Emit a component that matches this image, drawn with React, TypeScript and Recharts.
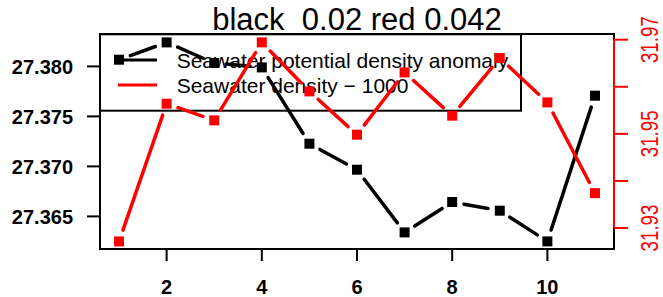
import React from 'react';
import { ComposedChart, Line, XAxis, YAxis, ReferenceArea, ReferenceLine } from 'recharts';

const xValues = [1, 2, 3, 4, 5, 6, 7, 8, 9, 10, 11];
const potentialDensityAnomaly = [27.38067, 27.3824, 27.38034, 27.3799, 27.37227, 27.36967, 27.3634, 27.36644, 27.36557, 27.3625, 27.37707];
const densityMinus1000 = [31.92715, 31.9564, 31.95286, 31.96943, 31.95902, 31.94982, 31.96305, 31.95386, 31.96611, 31.95668, 31.93741];
const xTicks = [2, 4, 6, 8, 10];
const leftTicks = [27.365, 27.37, 27.375, 27.38];
const rightTicks = [31.93, 31.94, 31.95, 31.96, 31.97];
const rightLabeledTicks = [31.93, 31.95, 31.97];
const titleText = 'black  0.02 red 0.042';
const legendLabels = ['Seawater potential density anomaly', 'Seawater density \u2212 1000'];
const xDomain = [0.6, 11.4];
const leftDomain = [27.36174, 27.38324];
const rightDomain = [31.92554, 31.97121];

const data = xValues.map((x, i) => ({ x, black: potentialDensityAnomaly[i], red: densityMinus1000[i] }));

const FONT = '"Liberation Sans", Arial, Helvetica, sans-serif';
const GAP = 12;

function makeDot(color: string) {
  const store: Record<number, { x: number; y: number }> = {};
  return (props: any) => {
    const { cx, cy, index, points } = props;
    store[index] = { x: cx, y: cy };
    const prev = index > 0 ? ((points && points[index - 1]) || store[index - 1]) : null;
    let seg = null;
    if (prev && prev.x != null && prev.y != null) {
      const dx = cx - prev.x;
      const dy = cy - prev.y;
      const len = Math.hypot(dx, dy);
      if (len > 2 * GAP) {
        const ux = dx / len;
        const uy = dy / len;
        seg = (
          <line
            x1={prev.x + ux * GAP}
            y1={prev.y + uy * GAP}
            x2={cx - ux * GAP}
            y2={cy - uy * GAP}
            stroke={color}
            strokeWidth={3.5}
            strokeLinecap="round"
          />
        );
      }
    }
    return (
      <g key={`dot-${color}-${index}`}>
        {seg}
        <rect x={cx - 5} y={cy - 5} width={10} height={10} fill={color} />
      </g>
    );
  };
}

const blackDot = makeDot('#000000');
const redDot = makeDot('#FF0000');

const RightTick = (props: any) => {
  const { x, y, payload } = props;
  const v = payload && payload.value;
  const show = rightLabeledTicks.some((t) => Math.abs(t - v) < 1e-9);
  if (!show) return <g />;
  return (
    <text
      transform={`translate(${x + 30},${y}) rotate(-90) scale(0.78,1)`}
      x={0}
      y={0}
      textAnchor="middle"
      fill="#FF0000"
      fontSize={24}
      fontFamily={FONT}
    >
      {v.toFixed(2)}
    </text>
  );
};

export default function App() {
  return (
    <div style={{ position: 'absolute', left: 0, top: 0, width: 663, height: 297, background: '#fff' }}>
      <svg width={663} height={297} style={{ position: 'absolute', left: 0, top: 0 }}>
        <text
          x={357}
          y={30}
          textAnchor="middle"
          fontSize={31}
          fontFamily={FONT}
          fill="#000"
          style={{ whiteSpace: 'pre' }}
          xmlSpace="preserve"
        >
          {titleText}
        </text>
        <rect x={100} y={34.3} width={421} height={76.4} fill="none" stroke="#000" strokeWidth={2} />
        <line x1={118} y1={60} x2={157} y2={60} stroke="#000" strokeWidth={3} />
        <line x1={118} y1={85} x2={157} y2={85} stroke="#FF0000" strokeWidth={3} />
        <text x={176.7} y={67.7} fontSize={21} fontFamily={FONT} fill="#000">{legendLabels[0]}</text>
        <text x={176.7} y={92.7} fontSize={21} fontFamily={FONT} fill="#000">{legendLabels[1]}</text>
      </svg>
      <div style={{ position: 'absolute', left: 0, top: 0 }}>
        <ComposedChart
          width={663}
          height={297}
          data={data}
          margin={{ top: 34, right: 0, bottom: 0, left: 0 }}
          style={{ fontFamily: FONT }}
        >
          <XAxis
            dataKey="x"
            type="number"
            domain={xDomain}
            ticks={xTicks}
            height={48}
            tickSize={12}
            tickMargin={19}
            axisLine={false}
            tickLine={{ stroke: '#000', strokeWidth: 2 }}
            tick={{ fill: '#000', fontSize: 20, fontWeight: 'bold', fontFamily: FONT }}
            allowDataOverflow
          />
          <YAxis
            yAxisId="left"
            orientation="left"
            domain={leftDomain}
            ticks={leftTicks}
            width={100}
            tickSize={13}
            tickMargin={14}
            axisLine={false}
            tickLine={{ stroke: '#000', strokeWidth: 2 }}
            tick={{ fill: '#000', fontSize: 20, fontWeight: 'bold', fontFamily: FONT }}
            tickFormatter={(v: number) => v.toFixed(3)}
            allowDataOverflow
          />
          <YAxis
            yAxisId="right"
            orientation="right"
            domain={rightDomain}
            ticks={rightTicks}
            width={49}
            tickSize={14}
            tickMargin={0}
            axisLine={false}
            tickLine={{ stroke: '#FF0000', strokeWidth: 2 }}
            tick={<RightTick />}
            allowDataOverflow
          />
          <ReferenceArea
            yAxisId="left"
            x1={xDomain[0]}
            x2={xDomain[1]}
            y1={leftDomain[0]}
            y2={leftDomain[1]}
            fill="none"
            fillOpacity={0}
            stroke="#000"
            strokeWidth={2}
            ifOverflow="visible"
          />
          <Line
            yAxisId="left"
            dataKey="black"
            stroke="none"
            dot={blackDot}
            activeDot={false}
            isAnimationActive={false}
          />
          <Line
            yAxisId="right"
            dataKey="red"
            stroke="none"
            dot={redDot}
            activeDot={false}
            isAnimationActive={false}
          />
          <ReferenceLine
            yAxisId="right"
            segment={[{ x: xDomain[1], y: rightTicks[0] }, { x: xDomain[1], y: rightTicks[rightTicks.length - 1] }]}
            stroke="#FF0000"
            strokeWidth={2}
            ifOverflow="visible"
          />
        </ComposedChart>
      </div>
    </div>
  );
}
